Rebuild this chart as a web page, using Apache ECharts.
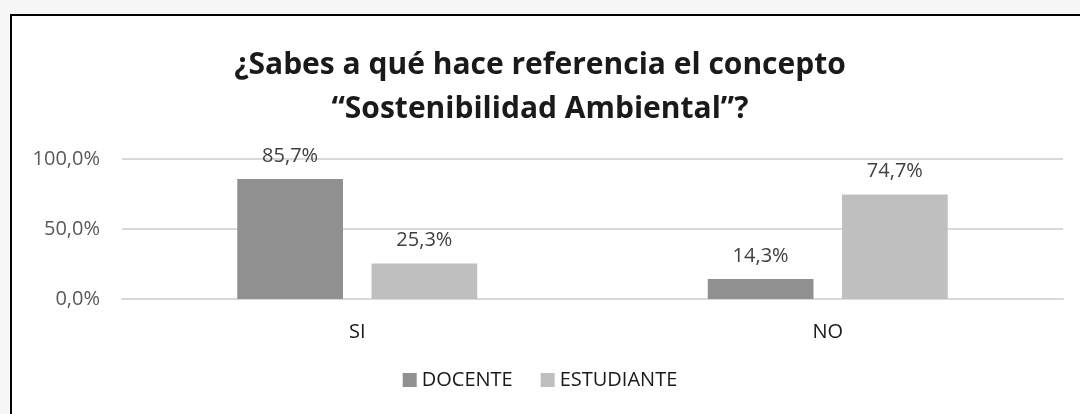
<!DOCTYPE html>
<html>
<head>
<meta charset="utf-8">
<script src="https://cdn.jsdelivr.net/npm/echarts@6/dist/echarts.min.js"></script>
<style>
html,body{margin:0;padding:0;background:#f7f7f7;}
#c{width:1080px;height:414px;}
</style>
</head>
<body>
<div id="c"></div>
<script>
const categories = ['SI', 'NO'];
const docente = [85.7, 14.3];
const estudiante = [25.3, 74.7];
const yTicks = [0, 50, 100];
const titleText = '¿Sabes a qué hace referencia el concepto\n“Sostenibilidad Ambiental”?';

const chart = echarts.init(document.getElementById('c'));
const fmt = v => v.toFixed(1).replace('.', ',') + '%';
const labelStyle = {
  show: true, position: 'top', distance: 13,
  color: '#404040', fontSize: 20, fontFamily: 'Open Sans',
  formatter: p => fmt(p.value)
};
chart.setOption({
  animation: false,
  backgroundColor: 'transparent',
  graphic: [{
    type: 'rect', left: 10, top: 14, z: -10,
    shape: { width: 1200, height: 500 },
    style: { fill: '#ffffff', stroke: '#000000', lineWidth: 2 }
  }],
  title: {
    text: titleText, left: 'center', top: 38,
    textStyle: { fontFamily: 'Open Sans', fontWeight: 'bold', fontSize: 30, color: '#1a1a1a', lineHeight: 44 }
  },
  grid: { left: 122, right: 17, top: 159, bottom: 115, containLabel: false },
  legend: {
    bottom: 19, left: 'center', itemWidth: 14, itemHeight: 14, itemGap: 28,
    icon: 'rect',
    textStyle: { fontFamily: 'Open Sans', fontSize: 20, color: '#1a1a1a' },
    data: ['DOCENTE', 'ESTUDIANTE']
  },
  xAxis: {
    type: 'category', data: categories,
    axisLine: { lineStyle: { color: '#d9d9d9', width: 2 } },
    axisTick: { show: false },
    axisLabel: { color: '#1a1a1a', fontSize: 20, fontFamily: 'Open Sans', margin: 23 }
  },
  yAxis: {
    type: 'value', min: 0, max: 100, interval: 50,
    axisLine: { show: false }, axisTick: { show: false },
    splitLine: { lineStyle: { color: '#d9d9d9', width: 2 } },
    axisLabel: { color: '#595959', fontSize: 20, fontFamily: 'Open Sans', margin: 22,
      formatter: v => yTicks.includes(v) ? fmt(v) : '' }
  },
  series: [
    { name: 'DOCENTE', type: 'bar', data: docente, barGap: '27%', barCategoryGap: '49%',
      itemStyle: { color: '#909090' }, label: labelStyle },
    { name: 'ESTUDIANTE', type: 'bar', data: estudiante,
      itemStyle: { color: '#bfbfbf' }, label: labelStyle }
  ]
});
</script>
</body>
</html>
